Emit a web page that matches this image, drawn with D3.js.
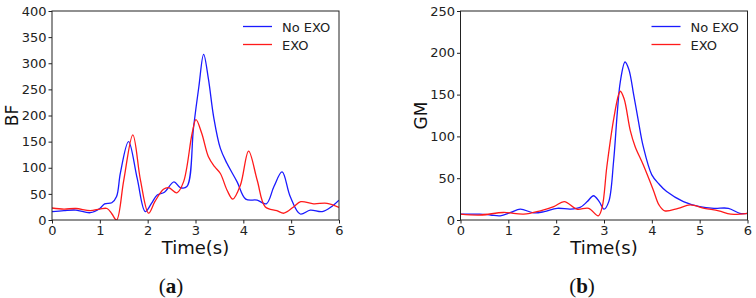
<!DOCTYPE html>
<html>
<head>
<meta charset="utf-8">
<script src="https://cdn.jsdelivr.net/npm/d3@7"></script>
<style>
  html, body { margin: 0; padding: 0; background: #fff; }
  svg { display: block; }
</style>
</head>
<body>
<svg id="chart" width="756" height="298"></svg>
<script>
// ---------- DATA ----------
const bfNoExoT = [0,0.25,0.5,0.8,1.0,1.1,1.25,1.35,1.43,1.6,1.78,1.95,2.08,2.2,2.35,2.55,2.68,2.82,2.96,3.07,3.17,3.27,3.38,3.52,3.66,3.87,4.05,4.29,4.48,4.64,4.81,4.98,5.19,5.4,5.65,5.85,6.0];
const bfNoExoV = [16,18,19,14,22,31,33,45,90,150,80,16,32,48,53,73,62,64,178,255,317,270,197,137,108,73,40,38,31,64,92,45,11.5,19,16,26,38];
const bfExoT = [0,0.25,0.5,0.8,1.0,1.15,1.25,1.35,1.5,1.69,1.85,2.02,2.15,2.33,2.44,2.61,2.75,2.93,3.01,3.13,3.27,3.4,3.52,3.66,3.78,3.94,4.11,4.29,4.46,4.7,4.85,5.05,5.2,5.47,5.75,6.0];
const bfExoV = [23,21,22,18,21,22,12,0,76,163,76,13,35,59,62,52,73,166,192,166,121,102,89,57,40,67,132,76,25,18,13,25,35,31,32,24];

const gmNoExoT = [0,0.4,0.63,0.83,1.05,1.25,1.53,1.75,2.02,2.3,2.5,2.65,2.78,2.9,3.0,3.1,3.2,3.28,3.34,3.44,3.52,3.62,3.72,3.82,4.0,4.15,4.31,4.66,5.0,5.3,5.6,5.84,6.0];
const gmNoExoV = [7,7,6,5,9,13,8.5,10,14,13,15,22,29,22,13,22,70,130,165,189,180,150,118,88,54,43,34,22,16,14,14,8,8];
const gmExoT = [0,0.42,0.9,1.32,1.67,1.95,2.17,2.43,2.68,2.88,2.96,3.06,3.2,3.3,3.34,3.42,3.55,3.65,3.82,4.03,4.15,4.27,4.55,4.8,5.1,5.4,5.65,6.0];
const gmExoV = [7,6,9,7,11,16,22,13,14,5,15,64,120,149,154,145,107,88,66,36,18,11,14,18,14,11,7,8];

const bfTicks = [0,50,100,150,200,250,300,350,400];
const gmTicks = [0,50,100,150,200,250];
const timeTicks = [0,1,2,3,4,5,6];
const seriesNames = ["No EXO","EXO"];
const seriesColors = ["#1a1aff","#ff1a1a"];

// ---------- DRAW ----------
const svg = d3.select("#chart");
const fontSans = "'DejaVu Sans', sans-serif";

function panel(cfg) {
  const {x0, x1, y0, y1, yMax, yTicks, yLabel, yLabelX, tag, tagX, series, clipId} = cfg;
  const x = d3.scaleLinear().domain([0, 6]).range([x0, x1]);
  const y = d3.scaleLinear().domain([0, yMax]).range([y1, y0]);
  const g = svg.append("g");

  g.append("clipPath").attr("id", clipId).append("rect")
    .attr("x", x0).attr("y", y0).attr("width", x1 - x0).attr("height", y1 - y0);

  const line = d3.line().x(d => x(d[0])).y(d => y(d[1])).curve(d3.curveCatmullRom.alpha(0.5));
  series.forEach((s, i) => {
    const pts = s.t.map((t, k) => [t, s.v[k]]);
    g.append("path").datum(pts)
      .attr("d", line)
      .attr("fill", "none")
      .attr("stroke", seriesColors[i])
      .attr("stroke-width", 1.3)
      .attr("clip-path", `url(#${clipId})`);
  });

  // axes
  const xa = g.append("g").attr("transform", `translate(0,${y1})`)
    .call(d3.axisBottom(x).tickValues(timeTicks).tickFormat(d3.format("d")).tickSize(3.5).tickPadding(2));
  const ya = g.append("g").attr("transform", `translate(${x0},0)`)
    .call(d3.axisLeft(y).tickValues(yTicks).tickFormat(d3.format("d")).tickSize(3.5).tickPadding(2));
  [xa, ya].forEach(a => {
    a.select(".domain").remove();
    a.selectAll("line").attr("stroke", "#222");
    a.selectAll("text").attr("fill", "#222").style("font-family", fontSans).style("font-size", "13px");
  });

  // frame
  g.append("rect").attr("x", x0).attr("y", y0).attr("width", x1 - x0).attr("height", y1 - y0)
    .attr("fill", "none").attr("stroke", "#222").attr("stroke-width", 1);

  // legend
  const lx = x0 + 191, ly = y0 + 15.5;
  seriesNames.forEach((n, i) => {
    g.append("line").attr("x1", lx).attr("x2", lx + 29)
      .attr("y1", ly + i * 18).attr("y2", ly + i * 18)
      .attr("stroke", seriesColors[i]).attr("stroke-width", 1.3);
    g.append("text").attr("x", lx + 39).attr("y", ly + i * 18 + 5)
      .attr("fill", "#222").style("font-family", fontSans).style("font-size", "13px").text(n);
  });

  // axis labels
  g.append("text").attr("x", (x0 + x1) / 2).attr("y", 254)
    .attr("text-anchor", "middle").attr("fill", "#111")
    .style("font-family", fontSans).style("font-size", "18px").text("Time(s)");
  g.append("text").attr("transform", `translate(${yLabelX},${(y0 + y1) / 2}) rotate(-90)`)
    .attr("text-anchor", "middle").attr("fill", "#111")
    .style("font-family", fontSans).style("font-size", "17px").text(yLabel);

  // panel tag
  const tt = g.append("text").attr("x", tagX).attr("y", 293).attr("text-anchor", "middle")
    .attr("fill", "#111").style("font-family", "'Liberation Serif', serif").style("font-size", "21px");
  tt.append("tspan").text("(");
  tt.append("tspan").attr("font-weight", "bold").text(tag);
  tt.append("tspan").text(")");
}

panel({x0: 52, x1: 339, y0: 11, y1: 220, yMax: 400, yTicks: bfTicks, yLabel: "BF", yLabelX: 18,
  tag: "a", tagX: 171, clipId: "clipA",
  series: [{t: bfNoExoT, v: bfNoExoV}, {t: bfExoT, v: bfExoV}]});
panel({x0: 460.5, x1: 747.5, y0: 11, y1: 220, yMax: 250, yTicks: gmTicks, yLabel: "GM", yLabelX: 427,
  tag: "b", tagX: 582, clipId: "clipB",
  series: [{t: gmNoExoT, v: gmNoExoV}, {t: gmExoT, v: gmExoV}]});
</script>
</body>
</html>
